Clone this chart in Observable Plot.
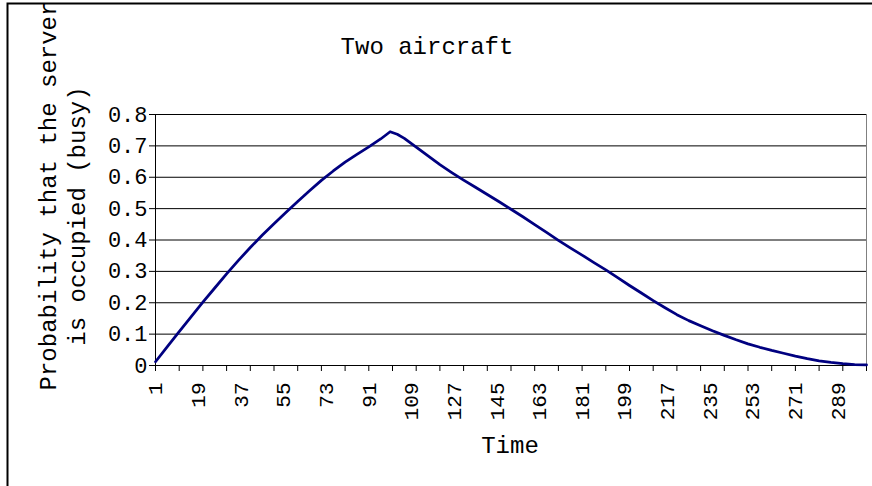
<!DOCTYPE html>
<html>
<head>
<meta charset="utf-8">
<script src="https://cdn.jsdelivr.net/npm/d3@7"></script>
<script src="https://cdn.jsdelivr.net/npm/@observablehq/plot@0.6"></script>
<style>
  html, body { margin: 0; padding: 0; background: #fff; overflow: hidden; }
  #chart { width: 872px; height: 486px; }
</style>
</head>
<body>
<div id="chart"></div>
<script>
// ---- data ----
const titleText = "Two aircraft";
const xTitle = "Time";
const yTitleLines = ["Probability that the server", "is occupied (busy)"];

const time = [1, 6, 11, 16, 21, 26, 31, 36, 41, 46, 51, 56, 61, 66, 71, 76, 81, 86, 91, 96, 100,
  103, 106, 111, 116, 121, 126, 131, 136, 141, 146, 151, 156, 161, 166, 171, 176, 181, 186, 191, 196,
  201, 206, 211, 216, 221, 226, 231, 236, 241, 246, 251, 256, 261, 266, 271, 276, 281, 286, 291, 296, 301];
const prob = [0.012, 0.060, 0.108, 0.155, 0.202, 0.247, 0.292, 0.335, 0.376, 0.415, 0.452, 0.488, 0.523, 0.557, 0.590, 0.620, 0.648, 0.673, 0.697, 0.722, 0.745,
  0.737, 0.724, 0.696, 0.668, 0.640, 0.615, 0.591, 0.568, 0.545, 0.522, 0.498, 0.474, 0.449, 0.424, 0.399, 0.375, 0.352, 0.328, 0.305, 0.280,
  0.255, 0.231, 0.207, 0.184, 0.162, 0.143, 0.127, 0.111, 0.096, 0.082, 0.069, 0.058, 0.048, 0.039, 0.030, 0.022, 0.015, 0.010, 0.006, 0.003, 0.002];

const xLabels = [1, 19, 37, 55, 73, 91, 109, 127, 145, 163, 181, 199, 217, 235, 253, 271, 289];
const xTickMarks = [1, 11, 21, 31, 41, 51, 61, 71, 81, 91, 101, 111, 121, 131, 141, 151, 161, 171, 181, 191, 201, 211, 221, 231, 241, 251, 261, 271, 281, 291, 301];
const yTicks = [0, 0.1, 0.2, 0.3, 0.4, 0.5, 0.6, 0.7, 0.8];
const yTickLabels = ["0", "0.1", "0.2", "0.3", "0.4", "0.5", "0.6", "0.7", "0.8"];

const data = time.map((t, i) => ({t, p: prob[i]}));
const FONT = "'Liberation Mono', 'Courier New', monospace";

const chart = Plot.plot({
  width: 872,
  height: 486,
  marginLeft: 155,
  marginRight: 6,
  marginTop: 114,
  marginBottom: 121,
  style: {fontFamily: FONT, background: "#fff", color: "#000"},
  x: {type: "linear", domain: [1, 301]},
  y: {domain: [0, 0.8]},
  marks: [
    Plot.frame({stroke: "#808080", strokeWidth: 1}),
    Plot.ruleY(yTicks.filter(d => d > 0), {stroke: "#000", strokeWidth: 1}),
    Plot.ruleX([1], {stroke: "#000", strokeWidth: 1}),
    Plot.ruleY([0], {stroke: "#000", strokeWidth: 1}),
    Plot.axisY(yTicks, {
      tickSize: 6, tickPadding: 2, fontSize: 22,
      tickFormat: (d) => yTickLabels[yTicks.indexOf(d)],
      label: null, stroke: "#000"
    }),
    Plot.axisX(xTickMarks, {tickSize: 6, text: null, label: null, stroke: "#000"}),
    Plot.axisX(xLabels, {
      tickSize: 0, tickPadding: 17, tickRotate: -90, fontSize: 21,
      tickFormat: (d) => String(d), label: null
    }),
    Plot.line(data, {x: "t", y: "p", stroke: "#000080", strokeWidth: 2.75, strokeLinejoin: "round"})
  ]
});

document.getElementById("chart").appendChild(chart);

const svg = d3.select(chart);
// outer chart-area border
svg.append("rect")
  .attr("x", 7.5).attr("y", 3.5).attr("width", 880).attr("height", 500)
  .attr("fill", "none").attr("stroke", "#000").attr("stroke-width", 2);

const txt = (x, y, s, size, rot) => {
  const t = svg.append("text")
    .attr("font-family", FONT)
    .attr("font-size", size)
    .attr("fill", "#000")
    .attr("text-anchor", "middle")
    .text(s);
  if (rot) t.attr("transform", `translate(${x},${y}) rotate(-90)`);
  else t.attr("x", x).attr("y", y);
};
txt(427, 54, titleText, 24, false);
txt(510, 453, xTitle, 24, false);
txt(56, 196, yTitleLines[0], 24, true);
txt(85, 216, yTitleLines[1], 24, true);
</script>
</body>
</html>
